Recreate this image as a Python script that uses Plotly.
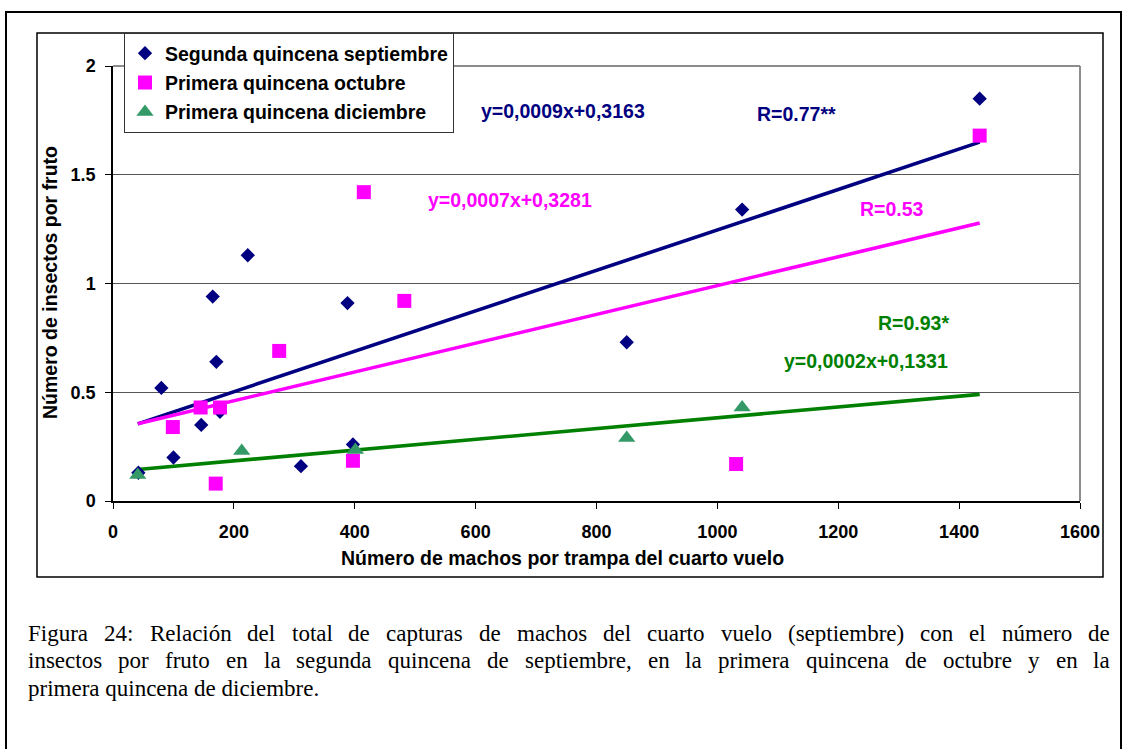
import numpy as np
import plotly.graph_objects as go

# ---------------- data ----------------
series_names = ["Segunda quincena septiembre", "Primera quincena octubre", "Primera quincena diciembre"]

x_sep = [42, 80, 100, 146, 165, 171, 177, 223, 311, 388, 397, 850, 1041, 1434]
y_sep = [0.13, 0.52, 0.20, 0.35, 0.94, 0.64, 0.41, 1.13, 0.16, 0.91, 0.26, 0.73, 1.34, 1.85]

x_oct = [99, 145, 170, 177, 275, 397, 415, 482, 1031, 1434]
y_oct = [0.34, 0.43, 0.08, 0.43, 0.69, 0.185, 1.42, 0.92, 0.17, 1.68]

x_dic = [41, 213, 401, 850, 1041]
y_dic = [0.12, 0.23, 0.235, 0.29, 0.43]

eq_labels = ["y=0,0009x+0,3163", "y=0,0007x+0,3281", "y=0,0002x+0,1331"]
r_labels = ["R=0.77**", "R=0.53", "R=0.93*"]
eq_pos = [(745, 1.791), (657, 1.383), (1246, 0.643)]
r_pos = [(1131, 1.779), (1289, 1.343), (1325, 0.818)]

x_ticks = [0, 200, 400, 600, 800, 1000, 1200, 1400, 1600]
y_ticks = [0, 0.5, 1, 1.5, 2]

x_title = "Número de machos por trampa del cuarto vuelo"
y_title = "Número de insectos por fruto"

caption_lines = [
    "Figura 24: Relación del total de capturas de machos del cuarto vuelo (septiembre) con el número de",
    "insectos por fruto en la segunda quincena de septiembre, en la primera quincena de octubre y en la",
    "primera quincena de diciembre.",
]

# ---------------- styles ----------------
navy = "#000080"
magenta = "#FF00FF"
tri_green = "#339966"
line_green = "#008000"
SANS = "Liberation Sans, Arial, sans-serif"
SERIF = "Liberation Serif, Times New Roman, serif"
TXT = 19.5

W, H = 1123, 749
PL, PR, PT, PB = 113, 1080, 66, 501


def px(x):
    return (x - PL) / (PR - PL)


def py(y):
    return (PB - y) / (PB - PT)


fig = go.Figure()

# trend lines (least squares fits of each series)
all_x = x_sep + x_oct + x_dic
xf = np.array([min(all_x), max(all_x)], dtype=float)
for xs, ys, col in [(x_sep, y_sep, navy), (x_oct, y_oct, magenta), (x_dic, y_dic, line_green)]:
    m, b = np.polyfit(xs, ys, 1)
    fig.add_trace(go.Scatter(x=xf, y=m * xf + b, mode="lines",
                             line=dict(color=col, width=3.6),
                             showlegend=False, hoverinfo="skip"))

# markers
fig.add_trace(go.Scatter(x=x_sep, y=y_sep, mode="markers", name=series_names[0],
                         legendgroup="a",
                         marker=dict(symbol="diamond", size=11, color=navy)))
fig.add_trace(go.Scatter(x=x_oct, y=y_oct, mode="markers", name=series_names[1],
                         legendgroup="b",
                         marker=dict(symbol="square", size=14, color=magenta)))
fig.add_trace(go.Scatter(x=x_dic, y=y_dic, mode="markers", name=series_names[2],
                         legendgroup="c",
                         marker=dict(symbol="triangle-up", size=15, color=tri_green)))

annotations = []
for (t, (ax, ay), col) in zip(eq_labels, eq_pos, [navy, magenta, line_green]):
    annotations.append(dict(x=ax, y=ay, xref="x", yref="y", text=t, showarrow=False,
                            xanchor="center", yanchor="middle",
                            font=dict(family=SANS, size=TXT, color=col, weight="bold")))
for (t, (ax, ay), col) in zip(r_labels, r_pos, [navy, magenta, line_green]):
    annotations.append(dict(x=ax, y=ay, xref="x", yref="y", text=t, showarrow=False,
                            xanchor="center", yanchor="middle",
                            font=dict(family=SANS, size=TXT, color=col, weight="bold")))

# axis titles
annotations.append(dict(x=px(562), y=py(558), xref="paper", yref="paper", text=x_title,
                        xanchor="center", yanchor="middle",
                        showarrow=False, font=dict(family=SANS, size=TXT, color="black", weight="bold")))
annotations.append(dict(x=px(50), y=py(283), xref="paper", yref="paper", text=y_title,
                        xanchor="center", yanchor="middle",
                        textangle=-90, showarrow=False,
                        font=dict(family=SANS, size=TXT, color="black", weight="bold")))

# caption, justified word by word (Times metrics)
cw = dict(a=444, b=500, c=444, d=500, e=444, f=333, g=500, h=500, i=278, j=278, k=500, l=278,
          m=778, n=500, o=500, p=500, q=500, r=333, s=389, t=278, u=500, v=500, w=722, x=500,
          y=500, z=444)
cw.update({"F": 556, "R": 667, ":": 278, ",": 250, ".": 250, "(": 333, ")": 333,
           "ó": 500, "ú": 500, " ": 250})
for dch in "0123456789":
    cw[dch] = 500
FS = 23
CAP_L, CAP_R = 28, 1110
cap_y = [633, 660.5, 688]


def wwidth(w):
    return sum(cw.get(ch, 500) for ch in w) * FS / 1000.0


for li, line in enumerate(caption_lines):
    if li < len(caption_lines) - 1:
        words = line.split(" ")
        ws = [wwidth(w) for w in words]
        gap = (CAP_R - CAP_L - sum(ws)) / (len(words) - 1)
        xc = CAP_L
        for w, wd in zip(words, ws):
            annotations.append(dict(x=px(xc), y=py(cap_y[li]), xref="paper", yref="paper",
                                    text=w, showarrow=False, xanchor="left", yanchor="middle",
                                    borderpad=0, borderwidth=0,
                                    font=dict(family=SERIF, size=FS, color="black")))
            xc += wd + gap
    else:
        annotations.append(dict(x=px(CAP_L), y=py(cap_y[li]), xref="paper", yref="paper",
                                text=line, showarrow=False, xanchor="left", yanchor="middle",
                                borderpad=0, borderwidth=0,
                                font=dict(family=SERIF, size=FS, color="black")))

shapes = [
    # outer page frame
    dict(type="rect", xref="paper", yref="paper", x0=px(6), x1=px(1121), y0=py(12), y1=py(770),
         line=dict(color="black", width=2), layer="below"),
    # chart area
    dict(type="rect", xref="paper", yref="paper", x0=px(37), x1=px(1103), y0=py(33), y1=py(577),
         line=dict(color="black", width=1.5), layer="below"),
    # plot area top & right border (gray)
    dict(type="line", xref="paper", yref="paper", x0=0, x1=1, y0=1, y1=1,
         line=dict(color="#8c8c8c", width=2)),
    dict(type="line", xref="paper", yref="paper", x0=1, x1=1, y0=0, y1=1,
         line=dict(color="#8c8c8c", width=2)),
]

fig.update_layout(
    width=W, height=H,
    margin=dict(l=PL, r=W - PR, t=PT, b=H - PB, pad=0),
    paper_bgcolor="white", plot_bgcolor="white",
    font=dict(family=SANS, size=18, color="black"),
    showlegend=True,
    legend=dict(x=px(124), y=py(33), xanchor="left", yanchor="top",
                bgcolor="white", bordercolor="#333333", borderwidth=1,
                font=dict(family=SANS, size=TXT, color="black", weight="bold"),
                tracegroupgap=1, itemwidth=30),
    annotations=annotations,
    shapes=shapes,
    xaxis=dict(range=[0, 1600], tickvals=x_ticks, ticks="outside", ticklen=6, tickcolor="black",
               showline=True, linecolor="black", linewidth=1.5, showgrid=False, zeroline=False,
               tickfont=dict(family=SANS, size=18, color="black", weight="bold"),
               ticklabelstandoff=8, fixedrange=True),
    yaxis=dict(range=[0, 2], tickvals=y_ticks, ticktext=["0", "0.5", "1", "1.5", "2"],
               ticks="outside", ticklen=6, tickcolor="black",
               showline=True, linecolor="black", linewidth=1.5, showgrid=True,
               gridcolor="#555555", gridwidth=1, zeroline=False,
               tickfont=dict(family=SANS, size=18, color="black", weight="bold"),
               ticklabelstandoff=6, fixedrange=True),
)

fig.write_html("out.html")
